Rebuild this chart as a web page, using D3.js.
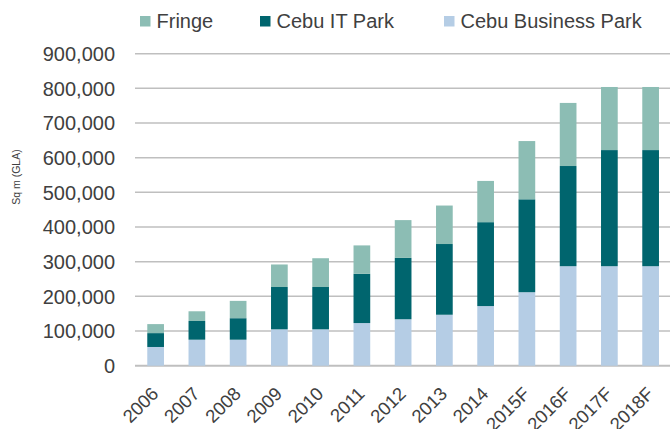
<!DOCTYPE html>
<html>
<head>
<script src="https://d3js.org/d3.v7.min.js"></script>
<style>
  body { margin: 0; background: #fff; }
  text { font-family: "Liberation Sans", Arial, sans-serif; fill: #404040; }
</style>
</head>
<body>
<svg width="670" height="429"></svg>
<script>
const years = ["2006", "2007", "2008", "2009", "2010", "2011", "2012", "2013", "2014", "2015F", "2016F", "2017F", "2018F"];
const businessPark = [54000, 75000, 75000, 105000, 105000, 123000, 134000, 147000, 172000, 212000, 287000, 287000, 287000];
const itPark = [40000, 54000, 62000, 122000, 122000, 142000, 177000, 204000, 242000, 268000, 289000, 335000, 335000];
const fringe = [26000, 28000, 50000, 65000, 83000, 82000, 109000, 111000, 119000, 168000, 182000, 182000, 182000];
const yTicks = [0, 100000, 200000, 300000, 400000, 500000, 600000, 700000, 800000, 900000];

const series = [
  {key: "businessPark", name: "Cebu Business Park", values: businessPark, color: "#b5cde5"},
  {key: "itPark", name: "Cebu IT Park", values: itPark, color: "#00656e"},
  {key: "fringe", name: "Fringe", values: fringe, color: "#8cbdb4"}
];

const table = years.map((y, i) => {
  const row = {year: y};
  series.forEach(s => row[s.key] = s.values[i]);
  return row;
});

const svg = d3.select("svg");

const x = d3.scaleBand()
  .domain(years)
  .range([135, 671.25])
  .paddingInner(0.595)
  .paddingOuter(0.2975);

const y = d3.scaleLinear()
  .domain([0, 900000])
  .range([365.7, 53.7]);

// gridlines
svg.append("g")
  .selectAll("line")
  .data(yTicks)
  .join("line")
  .attr("x1", 135)
  .attr("x2", 670)
  .attr("y1", d => y(d))
  .attr("y2", d => y(d))
  .attr("stroke", "#bfbfbf")
  .attr("stroke-width", d => d === 0 ? 2 : 1.5);

// y labels
svg.append("g")
  .selectAll("text")
  .data(yTicks)
  .join("text")
  .attr("x", 115)
  .attr("y", d => y(d))
  .attr("dy", "0.36em")
  .attr("text-anchor", "end")
  .style("font-size", "20px")
  .text(d => d3.format(",")(d));

// y title
svg.append("text")
  .attr("transform", "translate(20,177) rotate(-90)")
  .attr("text-anchor", "middle")
  .style("font-size", "10.5px")
  .text("Sq m (GLA)");

// stacked bars
const stack = d3.stack().keys(series.map(s => s.key));
const layers = stack(table);

svg.append("g")
  .selectAll("g")
  .data(layers)
  .join("g")
  .attr("fill", (d, i) => series[i].color)
  .selectAll("rect")
  .data(d => d)
  .join("rect")
  .attr("x", d => x(d.data.year))
  .attr("width", x.bandwidth())
  .attr("y", d => y(d[1]))
  .attr("height", d => y(d[0]) - y(d[1]));

// x labels
svg.append("g")
  .selectAll("text")
  .data(years)
  .join("text")
  .attr("transform", d => "translate(" + (x(d) + x.bandwidth() / 2 + 4) + ",395) rotate(-45)")
  .attr("text-anchor", "end")
  .style("font-size", "18.5px")
  .text(d => d);

// legend
const legend = [
  {name: "Fringe", color: "#8cbdb4", sx: 140},
  {name: "Cebu IT Park", color: "#00656e", sx: 260},
  {name: "Cebu Business Park", color: "#b5cde5", sx: 444}
];
const lg = svg.append("g")
  .selectAll("g")
  .data(legend)
  .join("g");
lg.append("rect")
  .attr("x", d => d.sx)
  .attr("y", 16)
  .attr("width", 10.5)
  .attr("height", 10.5)
  .attr("fill", d => d.color);
lg.append("text")
  .attr("x", d => d.sx + 16.5)
  .attr("y", 28)
  .style("font-size", "20px")
  .text(d => d.name);
</script>
</body>
</html>
